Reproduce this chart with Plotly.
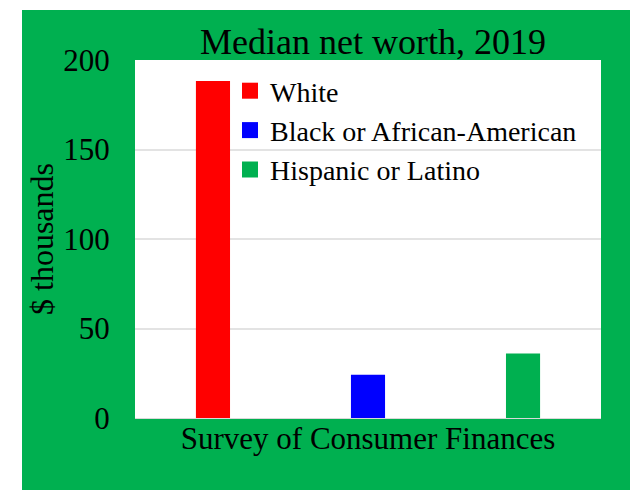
import plotly.graph_objects as go

# Median net worth by race/ethnicity, Survey of Consumer Finances 2019 ($ thousands)
category = ["Survey of Consumer Finances"]
groups = ["White", "Black or African-American", "Hispanic or Latino"]
median_net_worth = [188.2, 24.1, 36.1]
colors = ["#FF0000", "#0000FF", "#00B050"]
y_ticks = [0, 50, 100, 150, 200]

GREEN = "#00B050"
FONT = "'Liberation Serif', 'DejaVu Serif', serif"

fig = go.Figure()
for name, val, col in zip(groups, median_net_worth, colors):
    fig.add_trace(go.Bar(x=category, y=[val], name=name, marker_color=col,
                         marker_line_width=0, showlegend=False, legendgroup="g"))
# legend keys as larger squares
for name, col in zip(groups, colors):
    fig.add_trace(go.Scatter(x=[None], y=[None], mode="markers", name=name,
                             legendgroup="g",
                             marker=dict(symbol="square", size=17, color=col,
                                         line_width=0)))

# plot area: 135..601 px horizontally, 60..418 px vertically
W, H = 630, 490
L, R, T, B = 135, 29, 60, 72
pw, ph = W - L - R, H - T - B

fig.update_layout(
    width=W, height=H,
    margin=dict(l=L, r=R, t=T, b=B, autoexpand=False),
    paper_bgcolor=GREEN,
    plot_bgcolor="white",
    barmode="group",
    bargap=0.002,
    bargroupgap=0.78,
    font=dict(family=FONT, color="black"),
    title=dict(text="Median net worth, 2019", x=373 / W, xanchor="center",
               y=1 - 41 / H, yanchor="middle", font=dict(size=36, family=FONT)),
    legend=dict(x=(230 - L) / pw, xanchor="left", y=1 - (66 - T) / ph, yanchor="top",
                bgcolor="rgba(0,0,0,0)", font=dict(size=28, family=FONT),
                itemsizing="trace", tracegroupgap=0),
    showlegend=True,
    xaxis=dict(showgrid=False, showline=True, linecolor="#d9d9d9", linewidth=1,
               tickfont=dict(size=31, family=FONT), ticks="", ticklabelstandoff=-7,
               fixedrange=True),
    yaxis=dict(range=[0, 200], tickvals=y_ticks, showgrid=True, gridcolor="#e3e3e3",
               gridwidth=1.5, zeroline=False, showline=False,
               tickfont=dict(size=31, family=FONT), ticks="outside", ticklen=18,
               tickcolor="rgba(0,0,0,0)",
               title=dict(text="$ thousands", font=dict(size=32, family=FONT), standoff=0)),
    shapes=[
        # white strips around the green frame
        dict(type="rect", xref="paper", yref="paper", layer="above",
             x0=-L / pw, x1=1 + R / pw, y0=1 + (T - 10) / ph, y1=1 + T / ph + 0.05,
             fillcolor="white", line_width=0),
        dict(type="rect", xref="paper", yref="paper", layer="above",
             x0=-L / pw - 0.05, x1=-(L - 22) / pw, y0=-B / ph - 0.05, y1=1 + T / ph + 0.05,
             fillcolor="white", line_width=0),
    ],
)

fig.write_html("out.html")
